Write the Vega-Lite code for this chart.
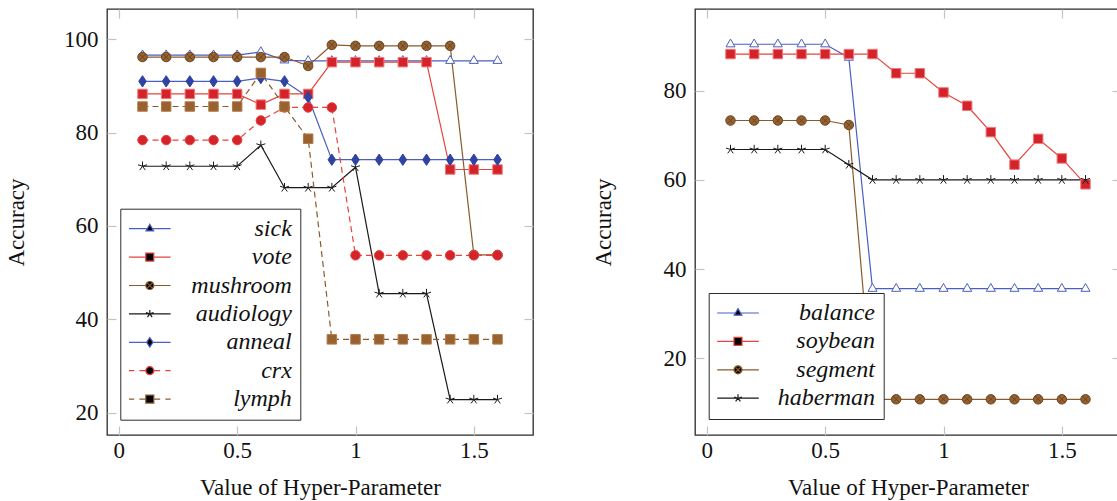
{
  "$schema": "https://vega.github.io/schema/vega-lite/v6.json",
  "padding": {"left": 4, "top": 7, "right": 0, "bottom": 0},
  "spacing": 56,
  "resolve": {"scale": {"shape": "independent", "fill": "independent", "stroke": "independent", "color": "independent"}},
  "config": {
    "font": "Liberation Serif",
    "view": {"stroke": "#2b2b2b", "strokeWidth": 1.3},
    "axis": {
      "labelFont": "Liberation Serif", "labelFontSize": 23, "labelColor": "#111111",
      "titleFont": "Liberation Serif", "titleFontSize": 23, "titleFontWeight": "normal", "titleColor": "#111111",
      "tickColor": "#c4c4c4", "tickWidth": 1.2, "tickSize": -9, "domain": false, "grid": false
    },
    "legend": {
      "labelFont": "Liberation Serif", "labelFontSize": 24, "labelFontStyle": "italic", "labelColor": "#111111",
      "labelAlign": "right", "labelLimit": 400, "strokeColor": "#2b2b2b", "fillColor": "#ffffff",
      "symbolSize": 64, "padding": 8, "rowPadding": 4.4, "symbolStrokeWidth": 1.2, "symbolOpacity": 1
    }
  },
  "hconcat": [
    {
      "width": 426, "height": 426,
      "data": {"values": [
        {"dataset":"sick","x":0.1,"y":96.6},{"dataset":"sick","x":0.2,"y":96.6},{"dataset":"sick","x":0.3,"y":96.6},{"dataset":"sick","x":0.4,"y":96.6},{"dataset":"sick","x":0.5,"y":96.6},{"dataset":"sick","x":0.6,"y":97.3},{"dataset":"sick","x":0.7,"y":95.5},{"dataset":"sick","x":0.8,"y":95.4},{"dataset":"sick","x":0.9,"y":95.4},{"dataset":"sick","x":1.0,"y":95.4},{"dataset":"sick","x":1.1,"y":95.4},{"dataset":"sick","x":1.2,"y":95.4},{"dataset":"sick","x":1.3,"y":95.4},{"dataset":"sick","x":1.4,"y":95.4},{"dataset":"sick","x":1.5,"y":95.4},{"dataset":"sick","x":1.6,"y":95.4},
        {"dataset":"vote","x":0.1,"y":88.3},{"dataset":"vote","x":0.2,"y":88.3},{"dataset":"vote","x":0.3,"y":88.3},{"dataset":"vote","x":0.4,"y":88.3},{"dataset":"vote","x":0.5,"y":88.3},{"dataset":"vote","x":0.6,"y":86.0},{"dataset":"vote","x":0.7,"y":88.3},{"dataset":"vote","x":0.8,"y":88.3},{"dataset":"vote","x":0.9,"y":95.1},{"dataset":"vote","x":1.0,"y":95.1},{"dataset":"vote","x":1.1,"y":95.1},{"dataset":"vote","x":1.2,"y":95.1},{"dataset":"vote","x":1.3,"y":95.1},{"dataset":"vote","x":1.4,"y":72.1},{"dataset":"vote","x":1.5,"y":72.1},{"dataset":"vote","x":1.6,"y":72.1},
        {"dataset":"mushroom","x":0.1,"y":96.2},{"dataset":"mushroom","x":0.2,"y":96.2},{"dataset":"mushroom","x":0.3,"y":96.2},{"dataset":"mushroom","x":0.4,"y":96.2},{"dataset":"mushroom","x":0.5,"y":96.2},{"dataset":"mushroom","x":0.6,"y":96.2},{"dataset":"mushroom","x":0.7,"y":96.2},{"dataset":"mushroom","x":0.8,"y":94.3},{"dataset":"mushroom","x":0.9,"y":98.8},{"dataset":"mushroom","x":1.0,"y":98.6},{"dataset":"mushroom","x":1.1,"y":98.6},{"dataset":"mushroom","x":1.2,"y":98.6},{"dataset":"mushroom","x":1.3,"y":98.6},{"dataset":"mushroom","x":1.4,"y":98.6},{"dataset":"mushroom","x":1.5,"y":53.8},{"dataset":"mushroom","x":1.6,"y":53.8},
        {"dataset":"audiology","x":0.1,"y":72.8},{"dataset":"audiology","x":0.2,"y":72.8},{"dataset":"audiology","x":0.3,"y":72.8},{"dataset":"audiology","x":0.4,"y":72.8},{"dataset":"audiology","x":0.5,"y":72.8},{"dataset":"audiology","x":0.6,"y":77.3},{"dataset":"audiology","x":0.7,"y":68.2},{"dataset":"audiology","x":0.8,"y":68.2},{"dataset":"audiology","x":0.9,"y":68.2},{"dataset":"audiology","x":1.0,"y":72.6},{"dataset":"audiology","x":1.1,"y":45.5},{"dataset":"audiology","x":1.2,"y":45.5},{"dataset":"audiology","x":1.3,"y":45.5},{"dataset":"audiology","x":1.4,"y":22.8},{"dataset":"audiology","x":1.5,"y":22.8},{"dataset":"audiology","x":1.6,"y":22.8},
        {"dataset":"anneal","x":0.1,"y":91.0},{"dataset":"anneal","x":0.2,"y":91.0},{"dataset":"anneal","x":0.3,"y":91.0},{"dataset":"anneal","x":0.4,"y":91.0},{"dataset":"anneal","x":0.5,"y":91.0},{"dataset":"anneal","x":0.6,"y":91.7},{"dataset":"anneal","x":0.7,"y":91.0},{"dataset":"anneal","x":0.8,"y":87.6},{"dataset":"anneal","x":0.9,"y":74.2},{"dataset":"anneal","x":1.0,"y":74.2},{"dataset":"anneal","x":1.1,"y":74.2},{"dataset":"anneal","x":1.2,"y":74.2},{"dataset":"anneal","x":1.3,"y":74.2},{"dataset":"anneal","x":1.4,"y":74.2},{"dataset":"anneal","x":1.5,"y":74.2},{"dataset":"anneal","x":1.6,"y":74.2},
        {"dataset":"crx","x":0.1,"y":78.4},{"dataset":"crx","x":0.2,"y":78.4},{"dataset":"crx","x":0.3,"y":78.4},{"dataset":"crx","x":0.4,"y":78.4},{"dataset":"crx","x":0.5,"y":78.4},{"dataset":"crx","x":0.6,"y":82.6},{"dataset":"crx","x":0.7,"y":85.4},{"dataset":"crx","x":0.8,"y":85.4},{"dataset":"crx","x":0.9,"y":85.4},{"dataset":"crx","x":1.0,"y":53.7},{"dataset":"crx","x":1.1,"y":53.7},{"dataset":"crx","x":1.2,"y":53.7},{"dataset":"crx","x":1.3,"y":53.7},{"dataset":"crx","x":1.4,"y":53.7},{"dataset":"crx","x":1.5,"y":53.7},{"dataset":"crx","x":1.6,"y":53.7},
        {"dataset":"lymph","x":0.1,"y":85.6},{"dataset":"lymph","x":0.2,"y":85.6},{"dataset":"lymph","x":0.3,"y":85.6},{"dataset":"lymph","x":0.4,"y":85.6},{"dataset":"lymph","x":0.5,"y":85.6},{"dataset":"lymph","x":0.6,"y":92.8},{"dataset":"lymph","x":0.7,"y":85.6},{"dataset":"lymph","x":0.8,"y":78.7},{"dataset":"lymph","x":0.9,"y":35.7},{"dataset":"lymph","x":1.0,"y":35.7},{"dataset":"lymph","x":1.1,"y":35.7},{"dataset":"lymph","x":1.2,"y":35.7},{"dataset":"lymph","x":1.3,"y":35.7},{"dataset":"lymph","x":1.4,"y":35.7},{"dataset":"lymph","x":1.5,"y":35.7},{"dataset":"lymph","x":1.6,"y":35.7}
      ]},
      "layer": [
        {
          "transform": [{"filter": "datum.dataset !== 'crx' && datum.dataset !== 'lymph'"}],
          "mark": {"type": "line", "strokeWidth": 1.2},
          "encoding": {
            "x": {"field": "x", "type": "quantitative", "scale": {"domain": [-0.05, 1.75], "nice": false, "zero": false},
                  "axis": {"orient": "bottom", "values": [0, 0.5, 1, 1.5], "format": "~g", "title": "Value of Hyper-Parameter", "labelPadding": 13, "titlePadding": 14}},
            "y": {"field": "y", "type": "quantitative", "scale": {"domain": [15.2, 106.5], "nice": false, "zero": false},
                  "axis": {"orient": "left", "values": [20, 40, 60, 80, 100], "title": "Accuracy", "labelPadding": 18, "titlePadding": 35}},
            "color": {"field": "dataset", "type": "nominal",
                       "scale": {"domain": ["sick", "vote", "mushroom", "audiology", "anneal", "crx", "lymph"],
                                 "range": ["#4a5fc1", "#e8433b", "#8b5a2b", "#1a1a1a", "#4a5fc1", "#e8433b", "#8b5a2b"]}, "legend": null}
          }
        },
        {
          "transform": [{"filter": "datum.dataset === 'crx' || datum.dataset === 'lymph'"}],
          "mark": {"type": "line", "strokeWidth": 1.2, "strokeDash": [6, 4]},
          "encoding": {
            "x": {"field": "x", "type": "quantitative", "axis": null},
            "y": {"field": "y", "type": "quantitative", "axis": null},
            "color": {"field": "dataset", "type": "nominal", "legend": null}
          }
        },
        {
          "mark": {"type": "point", "filled": true, "size": 90, "strokeWidth": 1, "opacity": 1},
          "encoding": {
            "x": {"field": "x", "type": "quantitative", "axis": {"orient": "top", "values": [0, 0.5, 1, 1.5], "labels": false, "title": null}},
            "y": {"field": "y", "type": "quantitative", "axis": {"orient": "right", "values": [20, 40, 60, 80, 100], "labels": false, "title": null}},
            "shape": {"field": "dataset", "type": "nominal",
                      "scale": {"domain": ["sick", "vote", "mushroom", "audiology", "anneal", "crx", "lymph"],
                                "range": ["M0,-1.1L0.95,0.55L-0.95,0.55Z", "M-1,-1L1,-1L1,1L-1,1Z", "M1,0A1,1,0,1,1,-1,0A1,1,0,1,1,1,0ZM-0.7,-0.7L0.7,0.7M-0.7,0.7L0.7,-0.7", "M0,0L0,-1M0,0L0.951,-0.309M0,0L0.588,0.809M0,0L-0.588,0.809M0,0L-0.951,-0.309", "M0,-1.2L0.8,0L0,1.2L-0.8,0Z", "M1,0A1,1,0,1,1,-1,0A1,1,0,1,1,1,0Z", "M-1,-1L1,-1L1,1L-1,1Z"]},
                      "legend": null},
            "fill": {"field": "dataset", "type": "nominal",
                     "scale": {"domain": ["sick", "vote", "mushroom", "audiology", "anneal", "crx", "lymph"],
                               "range": ["#ffffff", "#d5232b", "#956231", "#1a1a1a", "#2f43a3", "#d5232b", "#9a6130"]}, "legend": null},
            "stroke": {"field": "dataset", "type": "nominal",
                     "scale": {"domain": ["sick", "vote", "mushroom", "audiology", "anneal", "crx", "lymph"],
                               "range": ["#4a5fc1", "#f07a7a", "#6e4521", "#1a1a1a", "#2f43a3", "#e8433b", "#b07a45"]}, "legend": null}
          }
        },
        {
          "mark": {"type": "point", "filled": true, "opacity": 0, "strokeWidth": 1.2},
          "encoding": {
            "x": {"field": "x", "type": "quantitative", "axis": null},
            "y": {"field": "y", "type": "quantitative", "axis": null},
            "shape": {"field": "dataset", "type": "nominal",
                      "scale": {"domain": ["sick", "vote", "mushroom", "audiology", "anneal", "crx", "lymph"],
                                "range": ["M-5.2,0L-0.63,0M0.63,0L5.2,0M0,-1.1L0.95,0.55L-0.95,0.55Z", "M-5.2,0L-1,0M1,0L5.2,0M-1,-1L1,-1L1,1L-1,1Z", "M-5.2,0L-1,0M1,0L5.2,0M1,0A1,1,0,1,1,-1,0A1,1,0,1,1,1,0ZM-0.7,-0.7L0.7,0.7M-0.7,0.7L0.7,-0.7", "M-5.2,0L5.2,0M0,0L0,-1M0,0L0.951,-0.309M0,0L0.588,0.809M0,0L-0.588,0.809M0,0L-0.951,-0.309", "M-5.2,0L-0.8,0M0.8,0L5.2,0M0,-1.2L0.8,0L0,1.2L-0.8,0Z", "M-5.2,0L-3.9,0M-2.6,0L-1,0M1,0L2.6,0M3.9,0L5.2,0M1,0A1,1,0,1,1,-1,0A1,1,0,1,1,1,0Z", "M-5.2,0L-3.9,0M-2.6,0L-1,0M1,0L2.6,0M3.9,0L5.2,0M-1,-1L1,-1L1,1L-1,1Z"]},
                      "legend": {"orient": "none", "legendX": 13.3, "legendY": 199.7, "title": null, "symbolOffset": 9.5, "labelOffset": 130,
                        "encode": {"symbols": {
                          "fill": {"signal": "{'sick':'#ffffff','vote':'#d5232b','mushroom':'#956231','audiology':'#1a1a1a','anneal':'#2f43a3','crx':'#d5232b','lymph':'#9a6130'}[datum.value]"},
                          "stroke": {"signal": "{'sick':'#4a5fc1','vote':'#e8433b','mushroom':'#8b5a2b','audiology':'#1a1a1a','anneal':'#4a5fc1','crx':'#e8433b','lymph':'#8b5a2b'}[datum.value]"},
                          "strokeWidth": {"value": 1.2},
                          "strokeOpacity": {"value": 1},
                          "fillOpacity": {"value": 1},
                          "opacity": {"value": 1}
                        }}}},
            "fill": {"field": "dataset", "type": "nominal",
                     "scale": {"domain": ["sick", "vote", "mushroom", "audiology", "anneal", "crx", "lymph"],
                               "range": ["#ffffff", "#d5232b", "#956231", "#1a1a1a", "#2f43a3", "#d5232b", "#9a6130"]}, "legend": null},
            "stroke": {"field": "dataset", "type": "nominal",
                     "scale": {"domain": ["sick", "vote", "mushroom", "audiology", "anneal", "crx", "lymph"],
                               "range": ["#4a5fc1", "#e8433b", "#8b5a2b", "#1a1a1a", "#4a5fc1", "#e8433b", "#8b5a2b"]}, "legend": null}
          }
        }
      ],
      "resolve": {"axis": {"x": "independent", "y": "independent"}, "scale": {"shape": "independent", "stroke": "independent"}}
    },
    {
      "width": 426, "height": 426,
      "data": {"values": [
        {"dataset":"balance","x":0.1,"y":90.4},{"dataset":"balance","x":0.2,"y":90.4},{"dataset":"balance","x":0.3,"y":90.4},{"dataset":"balance","x":0.4,"y":90.4},{"dataset":"balance","x":0.5,"y":90.4},{"dataset":"balance","x":0.6,"y":87.4},{"dataset":"balance","x":0.7,"y":35.6},{"dataset":"balance","x":0.8,"y":35.6},{"dataset":"balance","x":0.9,"y":35.6},{"dataset":"balance","x":1.0,"y":35.6},{"dataset":"balance","x":1.1,"y":35.6},{"dataset":"balance","x":1.2,"y":35.6},{"dataset":"balance","x":1.3,"y":35.6},{"dataset":"balance","x":1.4,"y":35.6},{"dataset":"balance","x":1.5,"y":35.6},{"dataset":"balance","x":1.6,"y":35.6},
        {"dataset":"soybean","x":0.1,"y":88.2},{"dataset":"soybean","x":0.2,"y":88.2},{"dataset":"soybean","x":0.3,"y":88.2},{"dataset":"soybean","x":0.4,"y":88.2},{"dataset":"soybean","x":0.5,"y":88.2},{"dataset":"soybean","x":0.6,"y":88.2},{"dataset":"soybean","x":0.7,"y":88.2},{"dataset":"soybean","x":0.8,"y":83.9},{"dataset":"soybean","x":0.9,"y":83.9},{"dataset":"soybean","x":1.0,"y":79.6},{"dataset":"soybean","x":1.1,"y":76.6},{"dataset":"soybean","x":1.2,"y":70.7},{"dataset":"soybean","x":1.3,"y":63.4},{"dataset":"soybean","x":1.4,"y":69.2},{"dataset":"soybean","x":1.5,"y":64.8},{"dataset":"soybean","x":1.6,"y":59.0},
        {"dataset":"segment","x":0.1,"y":73.3},{"dataset":"segment","x":0.2,"y":73.3},{"dataset":"segment","x":0.3,"y":73.3},{"dataset":"segment","x":0.4,"y":73.3},{"dataset":"segment","x":0.5,"y":73.3},{"dataset":"segment","x":0.6,"y":72.3},{"dataset":"segment","x":0.7,"y":10.8},{"dataset":"segment","x":0.8,"y":10.8},{"dataset":"segment","x":0.9,"y":10.8},{"dataset":"segment","x":1.0,"y":10.8},{"dataset":"segment","x":1.1,"y":10.8},{"dataset":"segment","x":1.2,"y":10.8},{"dataset":"segment","x":1.3,"y":10.8},{"dataset":"segment","x":1.4,"y":10.8},{"dataset":"segment","x":1.5,"y":10.8},{"dataset":"segment","x":1.6,"y":10.8},
        {"dataset":"haberman","x":0.1,"y":66.8},{"dataset":"haberman","x":0.2,"y":66.8},{"dataset":"haberman","x":0.3,"y":66.8},{"dataset":"haberman","x":0.4,"y":66.8},{"dataset":"haberman","x":0.5,"y":66.8},{"dataset":"haberman","x":0.6,"y":63.4},{"dataset":"haberman","x":0.7,"y":60.0},{"dataset":"haberman","x":0.8,"y":60.0},{"dataset":"haberman","x":0.9,"y":60.0},{"dataset":"haberman","x":1.0,"y":60.0},{"dataset":"haberman","x":1.1,"y":60.0},{"dataset":"haberman","x":1.2,"y":60.0},{"dataset":"haberman","x":1.3,"y":60.0},{"dataset":"haberman","x":1.4,"y":60.0},{"dataset":"haberman","x":1.5,"y":60.0},{"dataset":"haberman","x":1.6,"y":60.0}
      ]},
      "layer": [
        {
          "mark": {"type": "line", "strokeWidth": 1.2},
          "encoding": {
            "x": {"field": "x", "type": "quantitative", "scale": {"domain": [-0.05, 1.75], "nice": false, "zero": false},
                  "axis": {"orient": "bottom", "values": [0, 0.5, 1, 1.5], "format": "~g", "title": "Value of Hyper-Parameter", "labelPadding": 13, "titlePadding": 14}},
            "y": {"field": "y", "type": "quantitative", "scale": {"domain": [2.8, 98.3], "nice": false, "zero": false},
                  "axis": {"orient": "left", "values": [20, 40, 60, 80], "title": "Accuracy", "labelPadding": 18, "titlePadding": 48}},
            "color": {"field": "dataset", "type": "nominal",
                       "scale": {"domain": ["balance", "soybean", "segment", "haberman"],
                                 "range": ["#4a5fc1", "#e8433b", "#8b5a2b", "#1a1a1a"]}, "legend": null}
          }
        },
        {
          "mark": {"type": "point", "filled": true, "size": 90, "strokeWidth": 1, "opacity": 1},
          "encoding": {
            "x": {"field": "x", "type": "quantitative", "axis": {"orient": "top", "values": [0, 0.5, 1, 1.5], "labels": false, "title": null}},
            "y": {"field": "y", "type": "quantitative", "axis": {"orient": "right", "values": [20, 40, 60, 80], "labels": false, "title": null}},
            "shape": {"field": "dataset", "type": "nominal",
                      "scale": {"domain": ["balance", "soybean", "segment", "haberman"],
                                "range": ["M0,-1.1L0.95,0.55L-0.95,0.55Z", "M-1,-1L1,-1L1,1L-1,1Z", "M1,0A1,1,0,1,1,-1,0A1,1,0,1,1,1,0ZM-0.7,-0.7L0.7,0.7M-0.7,0.7L0.7,-0.7", "M0,0L0,-1M0,0L0.951,-0.309M0,0L0.588,0.809M0,0L-0.588,0.809M0,0L-0.951,-0.309"]},
                      "legend": null},
            "fill": {"field": "dataset", "type": "nominal",
                     "scale": {"domain": ["balance", "soybean", "segment", "haberman"],
                               "range": ["#ffffff", "#d5232b", "#956231", "#1a1a1a"]}, "legend": null},
            "stroke": {"field": "dataset", "type": "nominal",
                     "scale": {"domain": ["balance", "soybean", "segment", "haberman"],
                               "range": ["#4a5fc1", "#f07a7a", "#6e4521", "#1a1a1a"]}, "legend": null}
          }
        },
        {
          "mark": {"type": "point", "filled": true, "opacity": 0, "strokeWidth": 1.2},
          "encoding": {
            "x": {"field": "x", "type": "quantitative", "axis": null},
            "y": {"field": "y", "type": "quantitative", "axis": null},
            "shape": {"field": "dataset", "type": "nominal",
                      "scale": {"domain": ["balance", "soybean", "segment", "haberman"],
                                "range": ["M-5.2,0L-0.63,0M0.63,0L5.2,0M0,-1.1L0.95,0.55L-0.95,0.55Z", "M-5.2,0L-1,0M1,0L5.2,0M-1,-1L1,-1L1,1L-1,1Z", "M-5.2,0L-1,0M1,0L5.2,0M1,0A1,1,0,1,1,-1,0A1,1,0,1,1,1,0ZM-0.7,-0.7L0.7,0.7M-0.7,0.7L0.7,-0.7", "M-5.2,0L5.2,0M0,0L0,-1M0,0L0.951,-0.309M0,0L0.588,0.809M0,0L-0.588,0.809M0,0L-0.951,-0.309"]},
                      "legend": {"orient": "none", "legendX": 13.7, "legendY": 284, "title": null, "symbolOffset": 9.3, "labelOffset": 125,
                        "encode": {"symbols": {
                          "fill": {"signal": "{'balance':'#ffffff','soybean':'#d5232b','segment':'#956231','haberman':'#1a1a1a'}[datum.value]"},
                          "stroke": {"signal": "{'balance':'#4a5fc1','soybean':'#e8433b','segment':'#8b5a2b','haberman':'#1a1a1a'}[datum.value]"},
                          "strokeWidth": {"value": 1.2},
                          "strokeOpacity": {"value": 1},
                          "fillOpacity": {"value": 1},
                          "opacity": {"value": 1}
                        }}}},
            "fill": {"field": "dataset", "type": "nominal",
                     "scale": {"domain": ["balance", "soybean", "segment", "haberman"],
                               "range": ["#ffffff", "#d5232b", "#956231", "#1a1a1a"]}, "legend": null},
            "stroke": {"field": "dataset", "type": "nominal",
                     "scale": {"domain": ["balance", "soybean", "segment", "haberman"],
                               "range": ["#4a5fc1", "#e8433b", "#8b5a2b", "#1a1a1a"]}, "legend": null}
          }
        }
      ],
      "resolve": {"axis": {"x": "independent", "y": "independent"}, "scale": {"shape": "independent", "stroke": "independent"}}
    }
  ]
}
